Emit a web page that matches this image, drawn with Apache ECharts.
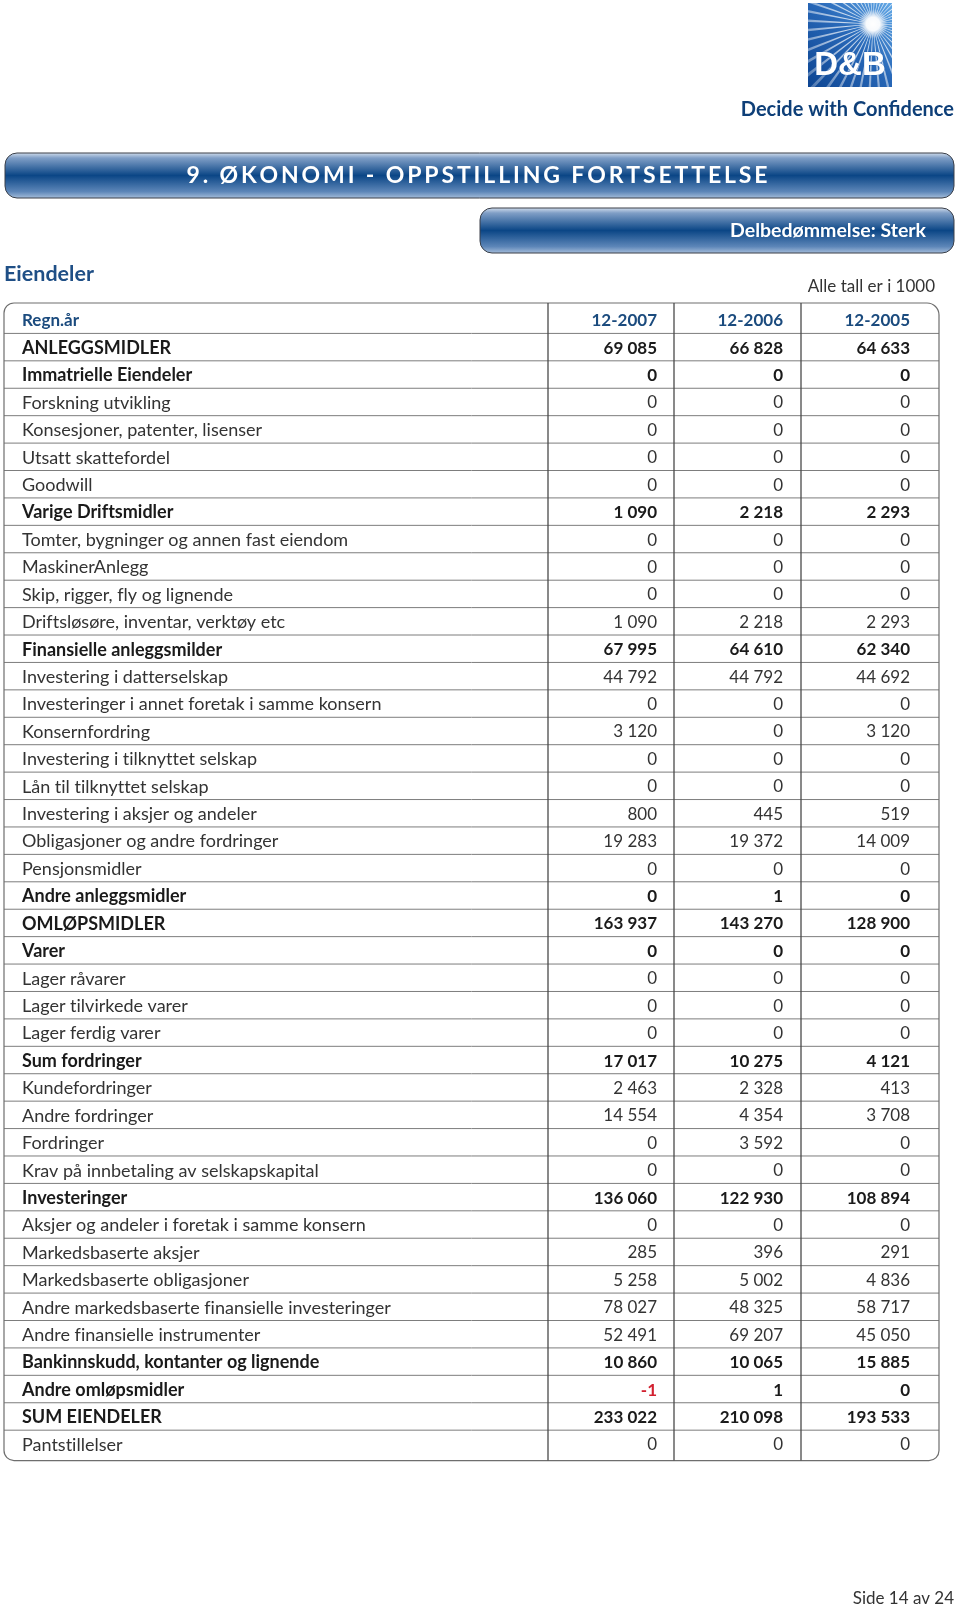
<!DOCTYPE html>
<html>
<head>
<meta charset="utf-8">
<script src="https://cdn.jsdelivr.net/npm/echarts@6/dist/echarts.min.js"></script>
<style>
  html, body { margin: 0; padding: 0; background: #fff; }
  #chart { width: 960px; height: 1607px; }
</style>
</head>
<body>
<div id="chart"></div>
<script>
const colHeaders = ['12-2007', '12-2006', '12-2005']

const rowLabels = [
  'ANLEGGSMIDLER', 'Immatrielle Eiendeler', 'Forskning utvikling', 'Konsesjoner, patenter, lisenser',
  'Utsatt skattefordel', 'Goodwill', 'Varige Driftsmidler', 'Tomter, bygninger og annen fast eiendom',
  'MaskinerAnlegg', 'Skip, rigger, fly og lignende', 'Driftsløsøre, inventar, verktøy etc',
  'Finansielle anleggsmilder', 'Investering i datterselskap', 'Investeringer i annet foretak i samme konsern',
  'Konsernfordring', 'Investering i tilknyttet selskap', 'Lån til tilknyttet selskap',
  'Investering i aksjer og andeler', 'Obligasjoner og andre fordringer', 'Pensjonsmidler',
  'Andre anleggsmidler', 'OMLØPSMIDLER', 'Varer', 'Lager råvarer', 'Lager tilvirkede varer',
  'Lager ferdig varer', 'Sum fordringer', 'Kundefordringer', 'Andre fordringer', 'Fordringer',
  'Krav på innbetaling av selskapskapital', 'Investeringer', 'Aksjer og andeler i foretak i samme konsern',
  'Markedsbaserte aksjer', 'Markedsbaserte obligasjoner', 'Andre markedsbaserte finansielle investeringer',
  'Andre finansielle instrumenter', 'Bankinnskudd, kontanter og lignende', 'Andre omløpsmidler',
  'SUM EIENDELER', 'Pantstillelser'
]

const boldRows = [
  1, 1, 0, 0, 0, 0, 1, 0, 0, 0, 0,
  1, 0, 0, 0, 0, 0, 0, 0, 0,
  1, 1, 1, 0, 0, 0, 1, 0, 0, 0,
  0, 1, 0, 0, 0, 0, 0, 1, 1, 1, 0
]

const values2007 = [
  69085, 0, 0, 0, 0, 0, 1090, 0, 0, 0, 1090,
  67995, 44792, 0, 3120, 0, 0, 800, 19283, 0,
  0, 163937, 0, 0, 0, 0, 17017, 2463, 14554, 0,
  0, 136060, 0, 285, 5258, 78027, 52491, 10860, -1, 233022, 0
]

const values2006 = [
  66828, 0, 0, 0, 0, 0, 2218, 0, 0, 0, 2218,
  64610, 44792, 0, 0, 0, 0, 445, 19372, 0,
  1, 143270, 0, 0, 0, 0, 10275, 2328, 4354, 3592,
  0, 122930, 0, 396, 5002, 48325, 69207, 10065, 1, 210098, 0
]

const values2005 = [
  64633, 0, 0, 0, 0, 0, 2293, 0, 0, 0, 2293,
  62340, 44692, 0, 3120, 0, 0, 519, 14009, 0,
  0, 128900, 0, 0, 0, 0, 4121, 413, 3708, 0,
  0, 108894, 0, 291, 4836, 58717, 45050, 15885, 0, 193533, 0
]

const FONT = 'Lato'
const BLUE_TEXT = '#1b4b7e'
const colEdges = [0, 544, 670, 797, 935]
const textRight = 109
const labelLeft = 18

function fmt (n) {
  const s = String(Math.abs(n)).replace(/\B(?=(\d{3})+(?!\d))/g, ' ')
  return n < 0 ? '-' + s : s
}

// Lato ligates tt / ti / fi, the original typeface does not
function noLig (s) {
  return s.replace(/([ft])(?=[tfil])/g, '$1\u200C')
}

const categories = ['Regn.år'].concat(rowLabels)
const nRows = categories.length
const columns = [values2007, values2006, values2005]

const chart = echarts.init(document.getElementById('chart'), null, { renderer: 'canvas' })

// sunburst rays for the logo
function logoRays () {
  const x0 = 808
  const y0 = 3
  const w = 84
  const cx = 873
  const cy = 24
  const out = []
  function hit (a) {
    const dx = Math.cos(a)
    const dy = Math.sin(a)
    let t = 1e9
    if (dx > 0) t = Math.min(t, (x0 + w - cx) / dx)
    if (dx < 0) t = Math.min(t, (x0 - cx) / dx)
    if (dy > 0) t = Math.min(t, (y0 + w - cy) / dy)
    if (dy < 0) t = Math.min(t, (y0 - cy) / dy)
    return [cx + dx * t, cy + dy * t]
  }
  const rayFill = new echarts.graphic.RadialGradient(cx, cy, 95, [
    { offset: 0, color: 'rgba(255,255,255,0.95)' },
    { offset: 0.5, color: 'rgba(255,255,255,0.6)' },
    { offset: 1, color: 'rgba(255,255,255,0.2)' }
  ], true)
  for (let k = 0; k < 44; k++) {
    const a = k * Math.PI * 2 / 44 + 0.05
    out.push({
      type: 'polygon',
      shape: { points: [[cx, cy], hit(a - 0.018), hit(a + 0.018)] },
      style: { fill: rayFill }
    })
  }
  return out
}

function banner (x, y, w, h) {
  return {
    type: 'rect',
    shape: { x: x, y: y, width: w, height: h, r: 12 },
    style: {
      fill: new echarts.graphic.LinearGradient(0, 0, 0, 1, [
        { offset: 0, color: '#d5e0ee' },
        { offset: 0.12, color: '#7f9ec6' },
        { offset: 0.5, color: '#0b4686' },
        { offset: 0.85, color: '#5d86b8' },
        { offset: 1, color: '#a9c0dc' }
      ]),
      stroke: '#3a3f48',
      lineWidth: 1
    }
  }
}

const option = {
  animation: false,
  backgroundColor: '#ffffff',
  grid: { left: 4, top: 306, width: 935, height: 1151.6, containLabel: false },
  xAxis: {
    type: 'value',
    min: 0,
    max: 935,
    show: false
  },
  yAxis: {
    type: 'category',
    inverse: true,
    data: categories,
    axisLine: { show: false },
    axisTick: { show: false },
    splitLine: { show: false },
    axisLabel: { show: false }
  },
  graphic: [
    banner(5, 153, 949, 45),
    {
      type: 'text',
      style: {
        text: '9. ØKONOMI - OPPSTILLING FORTSETTELSE'.split('').join('\u2009'),
        x: 477, y: 176, align: 'center', verticalAlign: 'middle',
        fontFamily: FONT, fontWeight: 'bold', fontSize: 23, fill: '#ffffff'
      }
    },
    banner(480, 208, 474, 45),
    {
      type: 'text',
      style: {
        text: 'Delbedømmelse: Sterk',
        x: 926, y: 231, align: 'right', verticalAlign: 'middle',
        fontFamily: FONT, fontWeight: 'bold', fontSize: 19.5, fill: '#ffffff'
      }
    },
    {
      type: 'text',
      style: {
        text: 'Eiendeler',
        x: 4, y: 274, align: 'left', verticalAlign: 'middle',
        fontFamily: FONT, fontWeight: 'bold', fontSize: 21.5, fill: '#1f4f86'
      }
    },
    {
      type: 'text',
      style: {
        text: 'Alle tall er i 1000',
        x: 935, y: 287, align: 'right', verticalAlign: 'middle',
        fontFamily: FONT, fontSize: 17, fill: '#333333'
      }
    },
    // logo
    {
      type: 'rect',
      shape: { x: 808, y: 3, width: 84, height: 84 },
      style: {
        fill: new echarts.graphic.LinearGradient(1, 0, 0, 1, [
          { offset: 0, color: '#62a8e6' },
          { offset: 0.45, color: '#2868b8' },
          { offset: 1, color: '#0d4592' }
        ])
      }
    }
  ].concat(logoRays()).concat([
    {
      type: 'circle',
      shape: { cx: 873, cy: 24, r: 15 },
      style: {
        fill: new echarts.graphic.RadialGradient(0.5, 0.5, 0.5, [
          { offset: 0, color: 'rgba(255,255,255,1)' },
          { offset: 0.45, color: 'rgba(255,255,255,0.95)' },
          { offset: 1, color: 'rgba(255,255,255,0)' }
        ])
      }
    },
    {
      type: 'text',
      style: {
        text: 'D&B', x: 850, y: 66, align: 'center', verticalAlign: 'middle',
        fontFamily: 'Liberation Sans', fontWeight: 'bold', fontSize: 33, fill: '#ffffff',
        stroke: '#1d5aa8', lineWidth: 0.6
      }
    },
    {
      type: 'text',
      style: {
        text: 'Decide with Confidence', x: 954, y: 110, align: 'right', verticalAlign: 'middle',
        fontFamily: FONT, fontWeight: 'bold', fontSize: 20, fill: '#0e3f78'
      }
    },
    {
      type: 'text',
      style: {
        text: 'Side 14 av 24', x: 954, y: 1599, align: 'right', verticalAlign: 'middle',
        fontFamily: FONT, fontSize: 17, fill: '#333333'
      }
    }
  ]),
  series: [
    {
      // rows: separators, row label and value cells
      type: 'custom',
      silent: true,
      data: categories.map((d, i) => [0, i]),
      encode: { x: 0, y: 1 },
      renderItem: function (params, api) {
        const i = params.dataIndex
        const band = api.size([0, 1])[1]
        const yc = api.coord([0, i])[1]
        const left = api.coord([colEdges[0], i])[0]
        const right = api.coord([colEdges[4], i])[0]
        const bold = i === 0 || boldRows[i - 1]
        const children = []
        if (i < nRows - 1) {
          children.push({
            type: 'line',
            shape: { x1: left, y1: yc + band / 2, x2: right, y2: yc + band / 2 },
            style: { stroke: '#7d7d7d', lineWidth: 1 }
          })
        }
        children.push({
          type: 'text',
          style: {
            text: noLig(categories[i]),
            x: api.coord([colEdges[0] + labelLeft, i])[0],
            y: yc + 1,
            align: 'left',
            verticalAlign: 'middle',
            fontFamily: FONT,
            fontSize: i === 0 ? 17 : 18,
            fontWeight: bold ? 'bold' : 'normal',
            fill: i === 0 ? BLUE_TEXT : (bold ? '#1a1a1a' : '#333333')
          }
        })
        for (let c = 0; c < 3; c++) {
          const x = api.coord([colEdges[c + 1] + textRight, i])[0]
          let text
          let fill
          if (i === 0) {
            text = colHeaders[c]
            fill = BLUE_TEXT
          } else {
            const v = columns[c][i - 1]
            text = fmt(v)
            fill = v < 0 ? '#d2202f' : (bold ? '#1a1a1a' : '#333333')
          }
          children.push({
            type: 'text',
            style: {
              text: text, x: x, y: yc + 1, align: 'right', verticalAlign: 'middle',
              fontFamily: FONT, fontSize: 17, fontWeight: bold ? 'bold' : 'normal', fill: fill
            }
          })
        }
        return { type: 'group', children: children }
      },
      z: 3
    },
    {
      // table frame and column rules
      type: 'custom',
      silent: true,
      data: [[0, 0]],
      encode: { x: 0, y: 1 },
      renderItem: function (params, api) {
        const band = api.size([0, 1])[1]
        const top = api.coord([0, 0])[1] - band / 2 - 3
        const bottom = api.coord([0, nRows - 1])[1] + band / 2 + 3
        const left = api.coord([colEdges[0], 0])[0]
        const right = api.coord([colEdges[4], 0])[0]
        const children = [{
          type: 'rect',
          shape: { x: left, y: top, width: right - left, height: bottom - top, r: [10, 12, 10, 10] },
          style: { fill: 'none', stroke: '#6e6e6e', lineWidth: 1.2 }
        }]
        for (let c = 1; c < 4; c++) {
          const x = api.coord([colEdges[c], 0])[0]
          children.push({
            type: 'line',
            shape: { x1: x, y1: top, x2: x, y2: bottom },
            style: { stroke: '#4a4a4a', lineWidth: 1.3 }
          })
        }
        return { type: 'group', children: children }
      },
      z: 4
    }
  ]
}

chart.setOption(option)
</script>
</body>
</html>
